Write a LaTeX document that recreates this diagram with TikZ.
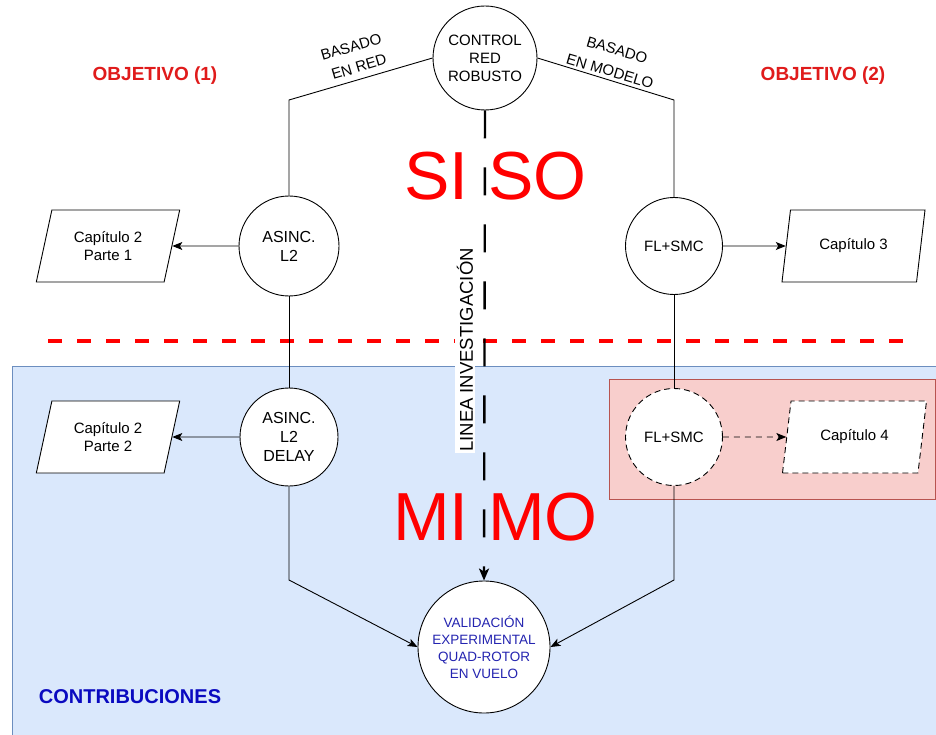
\documentclass[tikz,border=0pt]{standalone}
\usepackage{fontspec}
\setmainfont{Liberation Sans}
\usetikzlibrary{shapes.geometric,arrows.meta}
\definecolor{bluebg}{HTML}{DAE8FC}
\definecolor{blueline}{HTML}{6C8EBF}
\definecolor{redbg}{HTML}{F8CECC}
\definecolor{redline}{HTML}{B85450}
\definecolor{objred}{HTML}{E01B1B}
\definecolor{bigred}{HTML}{FF0000}
\definecolor{contblue}{HTML}{0A0AC0}
\definecolor{valblue}{HTML}{2424B0}
\newcommand{\fsz}[2]{\fontsize{#1}{#2}\selectfont}
\begin{document}
\begin{tikzpicture}[x=1pt,y=-1pt,
  every node/.style={inner sep=0pt},
  circ/.style={circle,draw,line width=0.9pt,fill=white,align=center,font=\fsz{15}{18}},
  para/.style={trapezium,trapezium left angle=72,trapezium right angle=108,
    trapezium stretches=true,draw,line width=0.9pt,fill=white,
    minimum width=144pt,minimum height=72pt,align=center,font=\fsz{15}{18}},
  conn/.style={line width=0.9pt},
  arr/.style={line width=0.9pt,-{Stealth[length=10pt,width=8pt,inset=2.5pt]}},
  bigtxt/.style={text=bigred,font=\fsz{68}{70},anchor=base},
  objtxt/.style={text=objred,font=\fsz{19}{22}\bfseries},
  slanttxt/.style={font=\fsz{15}{18}}
]
\useasboundingbox (0,0) rectangle (936,735);
\fill[white] (0,0) rectangle (936,735);
% background regions
\draw[fill=bluebg,draw=blueline,line width=1pt] (12,366) rectangle (945,745);
\draw[fill=redbg,draw=redline,line width=1pt] (609,379) rectangle (935,499);
% red dashed separator
\coordinate (sepL) at (48,341);
\coordinate (sepR) at (908,341);
\draw[bigred,line width=4.5pt,dash pattern=on 14pt off 15pt] (sepL) -- (sepR);

% nodes
\node[circ,minimum size=104pt] (ctrl) at (485,58) {CONTROL\\RED\\ROBUSTO};
\node[circ,minimum size=100pt,font=\fsz{16}{19}] (as1) at (289,246) {ASINC.\\L2};
\node[circ,minimum size=97pt] (fl1) at (674,246) {FL+SMC};
\node[circ,minimum size=98pt,font=\fsz{16}{19}] (as2) at (289,437) {ASINC.\\L2\\DELAY};
\node[circ,dashed,dash pattern=on 6pt off 4pt,minimum size=97pt] (fl2) at (674,437) {FL+SMC};
\node[circ,minimum size=132pt,text=valblue,font=\fsz{13.5}{17}] (val) at (484,647)
  {VALIDACIÓN\\EXPERIMENTAL\\QUAD-ROTOR\\EN VUELO};
\node[para] (c21) at (108,246) {Capítulo 2\\Parte 1};
\node[para] (c3) at (853.5,246) {Capítulo 3};
\node[para] (c22) at (108,437) {Capítulo 2\\Parte 2};
\node[para,dashed,dash pattern=on 6pt off 4pt,minimum width=145pt] (c4) at (854.5,437) {Capítulo 4};

% corner coordinates
\coordinate (kl) at (289,100);
\coordinate (kr) at (674,100);
\coordinate (bl) at (289,580);
\coordinate (br) at (674,580);

% connectors
\draw[conn] (ctrl.west) -- (kl) -- (as1.north);
\draw[conn] (ctrl.east) -- (kr) -- (fl1.north);
\draw[conn] (as1.south) -- (as2.north);
\draw[conn] (fl1.south) -- (fl2.north);
\draw[arr] (as1.west) -- (c21.east);
\draw[arr] (fl1.east) -- (c3.west);
\draw[arr] (as2.west) -- (c22.east);
\draw[arr,dashed,dash pattern=on 6pt off 5pt] (fl2.east) -- (c4.west);
\draw[arr] (as2.south) -- (bl) -- (val.west);
\draw[arr] (fl2.south) -- (br) -- (val.east);
\draw[line width=2.4pt,dash pattern=on 28pt off 29pt,
  -{Stealth[length=12pt,width=10pt,inset=3pt]}] (ctrl.south) -- (val.north);

% slanted labels (one node per line)
\node[slanttxt,rotate=16.5] (lbred1) at (351,47) {BASADO};
\node[slanttxt,rotate=16.5] (lbred2) at (359,67) {EN RED};
\node[slanttxt,rotate=-16.5] (lbmod1) at (617,50) {BASADO};
\node[slanttxt,rotate=-16.5] (lbmod2) at (610,71) {EN MODELO};

% vertical label
\node[fill=white,rotate=90,font=\fsz{18.5}{20},inner xsep=1pt,inner ysep=1.5pt] (linea) at (465,350) {LINEA INVESTIGACIÓN};

% big texts
\node[bigtxt,anchor=base east] (si) at (469,200) {SI};
\node[bigtxt,anchor=base west] (so) at (488,200) {SO};
\node[bigtxt,anchor=base east] (mi) at (469,540) {MI};
\node[bigtxt,anchor=base west] (mo) at (488,540) {MO};

% headings
\node[objtxt] (obj1) at (155,76) {OBJETIVO (1)};
\node[objtxt] (obj2) at (823,76) {OBJETIVO (2)};
\node[text=contblue,font=\fsz{20}{22}\bfseries] (contr) at (130,697) {CONTRIBUCIONES};
\end{tikzpicture}
\end{document}
